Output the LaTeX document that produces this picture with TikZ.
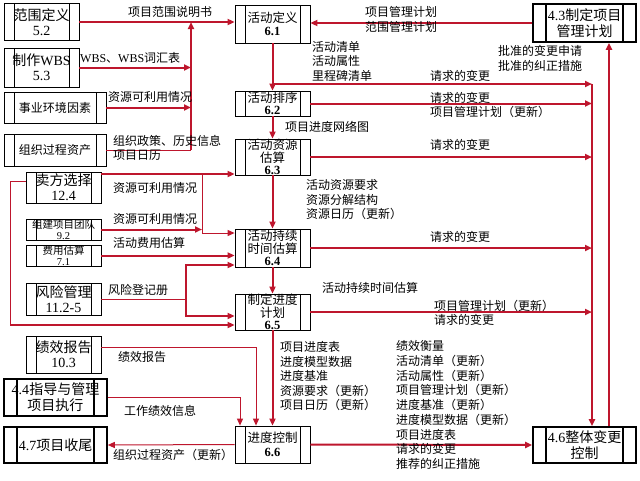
\documentclass[tikz,border=0pt]{standalone}
\usepackage{fontspec}
\setmainfont{Liberation Serif}
\newfontfamily\cjk{Noto Sans CJK SC}
\usetikzlibrary{arrows.meta}
\definecolor{flowred}{RGB}{190,22,45}

\begin{document}
\begin{tikzpicture}[
  x=1pt, y=-1pt,
  proc/.style={draw=black, line width=0.8pt, minimum width=75pt, minimum height=37pt,
    inner sep=0pt, align=center, font=\cjk\fontsize{14}{15}\selectfont,
    path picture={
      \draw[line width=0.8pt] ([xshift=10pt]path picture bounding box.north west) -- ([xshift=10pt]path picture bounding box.south west);
      \draw[line width=0.8pt] ([xshift=-10pt]path picture bounding box.north east) -- ([xshift=-10pt]path picture bounding box.south east);
    }},
  act/.style={proc, font=\cjk\fontsize{12.5}{13.5}\selectfont},
  integ/.style={draw=black, line width=1.6pt, minimum width=103pt, minimum height=37pt,
    inner sep=0pt, align=center, font=\cjk\fontsize{14}{16}\selectfont,
    path picture={
      \draw[line width=1.6pt] ([xshift=13pt]path picture bounding box.north west) -- ([xshift=13pt]path picture bounding box.south west);
      \draw[line width=1.6pt] ([xshift=-13pt]path picture bounding box.north east) -- ([xshift=-13pt]path picture bounding box.south east);
    }},
  small/.style={font=\cjk\fontsize{10.5}{11}\selectfont},
  flow/.style={draw=flowred, line width=2pt, -{Triangle[length=7pt,width=6pt]}},
  flowthin/.style={draw=flowred, line width=1pt, -{Triangle[length=7pt,width=6pt]}},
  wire/.style={draw=flowred, line width=1pt},
  lbl/.style={anchor=west, inner sep=0pt, align=left, font=\cjk\fontsize{12}{14.5}\selectfont}
]

  \fill[white] (0,0) rectangle (640,480);
  \useasboundingbox (0,0) rectangle (640,480);

  % ==========================================
  % 1. PROCESOS DE ENTRADA (columna izquierda)
  % ==========================================
  \node[proc] (sc52) at (41.5,22) {范围定义\\{\rmfamily 5.2}};
  \node[proc, minimum height=39pt] (wbs53) at (41.5,67.5) {制作{\rmfamily WBS}\\{\rmfamily 5.3}};
  \node[proc, minimum width=102pt, minimum height=31pt, font=\cjk\fontsize{12}{14}\selectfont] (eef) at (55,107.5) {事业环境因素};
  \node[proc, minimum width=102pt, minimum height=32pt, font=\cjk\fontsize{12}{14}\selectfont] (opa) at (55,150) {组织过程资产};
  \node[proc, minimum height=31pt] (seller) at (63.5,187.5) {卖方选择\\{\rmfamily 12.4}};
  \node[proc, small, minimum height=21pt] (team) at (63.5,229.5) {组建项目团队\\{\rmfamily 9.2}};
  \node[proc, small, minimum height=21pt] (cost) at (63.5,255.5) {费用估算\\{\rmfamily 7.1}};
  \node[proc, minimum height=32pt] (risk) at (63.5,299) {风险管理\\{\rmfamily 11.2-5}};
  \node[proc] (perf) at (63.5,354.5) {绩效报告\\{\rmfamily 10.3}};
  \node[integ] (dir44) at (55.5,397.5) {{\rmfamily 4.4}指导与管理\\项目执行};
  \node[integ, minimum height=36pt] (close47) at (55.5,445) {{\rmfamily 4.7}项目收尾};

  % ==========================================
  % 2. PROCESOS DE TIEMPO (columna central)
  % ==========================================
  \node[act, minimum height=38pt] (a61) at (272.5,24) {活动定义\\\textbf{\rmfamily 6.1}};
  \node[act, minimum height=25pt, font=\cjk\fontsize{12.5}{12.5}\selectfont] (a62) at (272.5,103.5) {活动排序\\\textbf{\rmfamily 6.2}};
  \node[act, minimum height=36pt, font=\cjk\fontsize{12.5}{12.5}\selectfont] (a63) at (272.5,157) {活动资源\\估算\\\textbf{\rmfamily 6.3}};
  \node[act, minimum height=38pt, font=\cjk\fontsize{12.5}{12.5}\selectfont] (a64) at (272.5,248) {活动持续\\时间估算\\\textbf{\rmfamily 6.4}};
  \node[act, minimum height=36pt, font=\cjk\fontsize{12.5}{12.5}\selectfont] (a65) at (272.5,312) {制定进度\\计划\\\textbf{\rmfamily 6.5}};
  \node[act, minimum height=37pt] (a66) at (272.5,444.5) {进度控制\\\textbf{\rmfamily 6.6}};

  % ==========================================
  % 3. PROCESOS DE INTEGRACIÓN (derecha)
  % ==========================================
  \node[integ, minimum height=38pt] (p43) at (584.5,23) {{\rmfamily 4.3}制定项目\\管理计划};
  \node[integ, minimum height=36pt] (c46) at (584.5,445) {{\rmfamily 4.6}整体变更\\控制};

  % puntos de unión de los buses
  \coordinate (bus1) at (191,150);
  \coordinate (bus2) at (592,84);
  \coordinate (selJ) at (202,174);
  \coordinate (riskJ) at (186,299);
  \coordinate (loopL) at (10,325);

  % ==========================================
  % 4. FLUJOS
  % ==========================================
  % entradas de 6.1
  \draw[flow] (sc52.east) -- (sc52.east -| a61.west);
  \draw[flow] (wbs53.east) -- (wbs53.east -| bus1);
  \draw[flow] (eef.east) -- (eef.east -| bus1);
  \draw[wire] (opa.east) -- (bus1);
  \draw[flow] (bus1) -- (bus1 |- sc52.east);
  \draw[flow] (p43.west) -- (p43.west -| a61.east);

  % cadena central
  \draw[flow] (a61.south) -- (a62.north);
  \draw[flow] (a62.south) -- (a63.north);
  \draw[flow] (a63.south) -- (a64.north);
  \draw[flow] (a64.south) -- (a65.north);
  \draw[flow] (a65.south) -- (a66.north);

  % cambios solicitados hacia 4.6
  \draw[flow] (a61.south |- bus2) -- (bus2);
  \draw[flow] (a62.east) -- (a62.east -| bus2);
  \draw[flow] (a63.east) -- (a63.east -| bus2);
  \draw[flow] (a64.east) -- (a64.east -| bus2);
  \draw[flow] (a65.east) -- (a65.east -| bus2);
  \draw[flow] (bus2) -- (bus2 |- c46.north);
  \draw[flow] ([xshift=24.5pt]c46.north) -- ([xshift=24.5pt]p43.south);
  \draw[flow] (a66.east) -- (c46.west);
  \draw[flowthin] (a66.west) -- (close47.east);

  % entradas de la izquierda
  \draw[flow] ([yshift=13.5pt]seller.east) -- ([yshift=13.5pt]seller.east -| a63.west);
  \draw[flowthin] (selJ) |- ([yshift=15pt]a64.west);
  \draw[wire] ([yshift=6pt]seller.west) -| (loopL);
  \draw[flow] (loopL) -- (loopL -| a65.west);
  \draw[flow] (team.east) -- (team.east -| selJ);
  \draw[flow] (cost.east) -- (cost.east -| a64.west);
  \draw[wire] (risk.east) -- (riskJ);
  \draw[flow] (riskJ) |- ([yshift=-17pt]a64.west);
  \draw[flow] (riskJ) |- ([yshift=-4pt]a65.west);
  \draw[flowthin] ([yshift=7pt]perf.east) -| ([xshift=-16.5pt]a66.north);
  \draw[flowthin] (dir44.east) -| ([xshift=-32.5pt]a66.north);

  % ==========================================
  % 5. ETIQUETAS
  % ==========================================
  \node[lbl] at (128,12) {项目范围说明书};
  \node[lbl] at (80,58) {{\rmfamily WBS}、{\rmfamily WBS}词汇表};
  \node[lbl] at (108,97) {资源可利用情况};
  \node[lbl] at (113,148) {组织政策、历史信息\\项目日历};
  \node[lbl] at (365,19.5) {项目管理计划\\范围管理计划};
  \node[lbl] at (498,58.5) {批准的变更申请\\批准的纠正措施};
  \node[lbl] at (312,61) {活动清单\\活动属性\\里程碑清单};
  \node[lbl] at (430,76) {请求的变更};
  \node[lbl] at (430,105) {请求的变更\\项目管理计划（更新）};
  \node[lbl] at (285,127) {项目进度网络图};
  \node[lbl] at (430,145) {请求的变更};
  \node[lbl] at (113,188) {资源可利用情况};
  \node[lbl] at (306,200) {活动资源要求\\资源分解结构\\资源日历（更新）};
  \node[lbl] at (113,219) {资源可利用情况};
  \node[lbl] at (113,243) {活动费用估算};
  \node[lbl] at (430,237) {请求的变更};
  \node[lbl] at (108,290) {风险登记册};
  \node[lbl] at (322,288) {活动持续时间估算};
  \node[lbl] at (434,313) {项目管理计划（更新）\\请求的变更};
  \node[lbl] at (118,357) {绩效报告};
  \node[lbl] at (280,376) {项目进度表\\进度模型数据\\进度基准\\资源要求（更新）\\项目日历（更新）};
  \node[lbl, font=\cjk\fontsize{12}{14.75}\selectfont] at (396,405) {绩效衡量\\活动清单（更新）\\活动属性（更新）\\项目管理计划（更新）\\进度基准（更新）\\进度模型数据（更新）\\项目进度表\\请求的变更\\推荐的纠正措施};
  \node[lbl] at (124,411) {工作绩效信息};
  \node[lbl] at (113,455) {组织过程资产（更新）};

\end{tikzpicture}
\end{document}
